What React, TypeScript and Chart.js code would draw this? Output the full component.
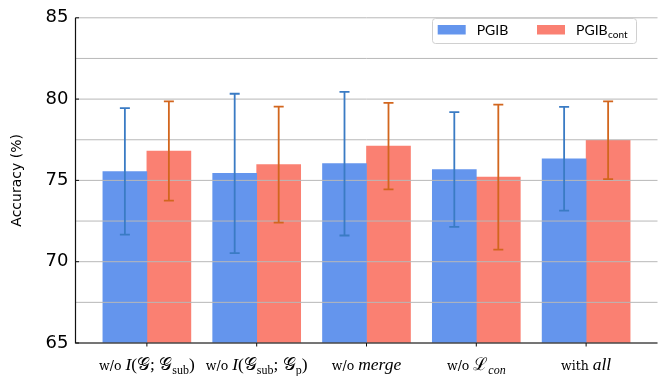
import React, { useEffect, useRef } from 'react';
import { Chart, registerables } from 'chart.js';
Chart.register(...registerables);

// ---- data ----
const labelPrefixes = ['w/o', 'w/o', 'w/o', 'w/o', 'with'];
const labelMath = ['I(𝒢; 𝒢_{sub})', 'I(𝒢_{sub}; 𝒢_{p})', 'merge', 'ℒ_[con]', 'all'];
const pgib = [75.55, 75.43, 76.03, 75.67, 76.33];
const pgibErr = [3.89, 4.9, 4.42, 3.53, 3.19];
const pgibCont = [76.81, 75.97, 77.11, 75.2, 77.47];
const pgibContErr = [3.05, 3.57, 2.66, 4.46, 2.39];
const yTicks = [65, 67.5, 70, 72.5, 75, 77.5, 80, 82.5, 85];
const yLabelTicks = [65, 70, 75, 80, 85];
const seriesNames = ['PGIB', 'PGIB'];
const seriesSubs = ['', 'cont'];
const yTitle = 'Accuracy (%)';

const barColors = ['#6495ED', '#FA8072'];
const errColors = ['#3a7bc4', '#d2661e'];

type Seg = { t: string; sub: boolean; italic: boolean };
function parseMath(s: string): Seg[] {
  const out: Seg[] = [];
  let i = 0;
  const chars = Array.from(s);
  while (i < chars.length) {
    const c = chars[i];
    if (c === '_' && (chars[i + 1] === '{' || chars[i + 1] === '[')) {
      const close = chars[i + 1] === '{' ? '}' : ']';
      const italic = chars[i + 1] === '[';
      let j = i + 2;
      let t = '';
      while (j < chars.length && chars[j] !== close) { t += chars[j]; j++; }
      out.push({ t, sub: true, italic });
      i = j + 1;
      continue;
    }
    const it = /[A-Za-z]/.test(c);
    const last = out[out.length - 1];
    if (last && !last.sub && last.italic === it) last.t += c;
    else out.push({ t: c, sub: false, italic: it });
    i++;
  }
  return out;
}

const customPlugin = {
  id: 'customDraw',
  afterDatasetsDraw(chart: any) {
    const ctx: CanvasRenderingContext2D = chart.ctx;
    const { left, right, top, bottom } = chart.chartArea;
    const ys = chart.scales.y;
    ctx.save();
    // grid lines over bars
    ctx.strokeStyle = '#b8b8b8';
    ctx.lineWidth = 1;
    yTicks.forEach((v) => {
      const py = ys.getPixelForValue(v);
      ctx.beginPath();
      ctx.moveTo(left, py);
      ctx.lineTo(right, py);
      ctx.stroke();
    });
    // error bars
    const errs = [pgibErr, pgibContErr];
    const vals = [pgib, pgibCont];
    [0, 1].forEach((di) => {
      const meta = chart.getDatasetMeta(di);
      ctx.strokeStyle = errColors[di];
      ctx.lineWidth = 1.8;
      meta.data.forEach((el: any, j: number) => {
        const x = el.x;
        const yt = ys.getPixelForValue(vals[di][j] + errs[di][j]);
        const yb = ys.getPixelForValue(vals[di][j] - errs[di][j]);
        ctx.beginPath();
        ctx.moveTo(x, yt); ctx.lineTo(x, yb);
        ctx.moveTo(x - 5, yt); ctx.lineTo(x + 5, yt);
        ctx.moveTo(x - 5, yb); ctx.lineTo(x + 5, yb);
        ctx.stroke();
      });
    });
    // spines
    ctx.strokeStyle = '#111';
    ctx.lineWidth = 1.2;
    ctx.beginPath();
    ctx.moveTo(left, top); ctx.lineTo(left, bottom); ctx.lineTo(right, bottom);
    ctx.stroke();
    // y ticks
    ctx.lineWidth = 1;
    yLabelTicks.forEach((v) => {
      const py = ys.getPixelForValue(v);
      ctx.beginPath();
      ctx.moveTo(left, py); ctx.lineTo(left + 3.5, py);
      ctx.stroke();
    });
    // x ticks & labels
    const xs = chart.scales.x;
    labelPrefixes.forEach((pre, i) => {
      const cx = xs.getPixelForValue(i);
      ctx.strokeStyle = '#111';
      ctx.beginPath();
      ctx.moveTo(cx, bottom); ctx.lineTo(cx, bottom + 3.5);
      ctx.stroke();
      const segs = parseMath(labelMath[i]);
      const preFont = '12.5px "DejaVu Serif"';
      const fontFor = (s: Seg) =>
        `${s.italic ? 'italic ' : ''}${s.sub ? 12 : 17.5}px "Liberation Serif", "DejaVu Serif"`;
      ctx.font = preFont;
      const preW = ctx.measureText(pre + ' ').width;
      let total = preW;
      segs.forEach((s) => { ctx.font = fontFor(s); total += ctx.measureText(s.t).width; });
      let x = cx - total / 2;
      const base = 370;
      ctx.fillStyle = '#000';
      ctx.textAlign = 'left';
      ctx.textBaseline = 'alphabetic';
      ctx.font = preFont;
      ctx.fillText(pre + ' ', x, base);
      x += preW;
      segs.forEach((s) => {
        ctx.font = fontFor(s);
        ctx.fillText(s.t, x, base + (s.sub ? 3.5 : 0));
        x += ctx.measureText(s.t).width;
      });
    });
    // y title
    ctx.save();
    ctx.translate(17, (top + bottom) / 2);
    ctx.rotate(-Math.PI / 2);
    ctx.font = '14px "DejaVu Sans"';
    ctx.textAlign = 'center';
    ctx.textBaseline = 'middle';
    ctx.fillStyle = '#000';
    ctx.fillText(yTitle, 0, 0);
    ctx.restore();
    // legend
    const bx = 432, by = 18, bw = 204, bh = 25;
    ctx.fillStyle = 'rgba(255,255,255,0.85)';
    ctx.strokeStyle = '#d0d0d0';
    ctx.lineWidth = 1;
    ctx.beginPath();
    (ctx as any).roundRect(bx + 0.5, by + 0.5, bw, bh, 3);
    ctx.fill();
    ctx.stroke();
    const itemX = [437.7, 537];
    seriesNames.forEach((name, i) => {
      ctx.fillStyle = barColors[i];
      ctx.fillRect(itemX[i], 25, 28, 9.5);
      ctx.fillStyle = '#000';
      ctx.font = '14px Lato';
      ctx.textBaseline = 'alphabetic';
      ctx.fillText(name, itemX[i] + 39, 35);
      if (seriesSubs[i]) {
        const w = ctx.measureText(name).width;
        ctx.font = '10px Lato';
        ctx.fillText(seriesSubs[i], itemX[i] + 39 + w + 0.5, 38);
      }
    });
    ctx.restore();
  },
};

export default function App() {
  const ref = useRef<HTMLCanvasElement>(null);
  useEffect(() => {
    document.body.style.margin = '0';
    Chart.defaults.color = '#000';
    const chart = new Chart(ref.current!, {
      type: 'bar',
      data: {
        datasets: [
          { label: 'PGIB', data: pgib.map((v, i) => ({ x: i, y: v })), backgroundColor: barColors[0], borderWidth: 0 },
          { label: 'PGIB_cont', data: pgibCont.map((v, i) => ({ x: i, y: v })), backgroundColor: barColors[1], borderWidth: 0 },
        ],
      },
      options: {
        animation: false,
        responsive: true,
        maintainAspectRatio: false,
        layout: { padding: { left: 0, right: 0.5, top: 9.5, bottom: 33 } },
        datasets: { bar: { barThickness: 44, categoryPercentage: 1, barPercentage: 1 } },
        plugins: { legend: { display: false }, tooltip: { enabled: false } },
        scales: {
          x: {
            type: 'linear',
            min: -0.65,
            max: 4.65,
            offset: false,
            ticks: { display: false },
            grid: { display: false, drawTicks: false, offset: false },
            border: { display: false },
            afterFit: (s: any) => { s.height = 0; },
          },
          y: {
            min: 65,
            max: 85,
            ticks: {
              stepSize: 2.5,
              font: { family: 'DejaVu Sans', size: 18 },
              color: '#000',
              padding: 7,
              callback: (v: any) => (yLabelTicks.includes(Number(v)) ? String(v) : ''),
            },
            grid: { display: false, drawTicks: false },
            border: { display: false },
            afterFit: (s: any) => { s.width = 75.5; },
          },
        },
      },
      plugins: [customPlugin],
    } as any);
    return () => chart.destroy();
  }, []);
  return (
    <div style={{ width: 658, height: 376, position: 'relative' }}>
      <canvas ref={ref} />
    </div>
  );
}
